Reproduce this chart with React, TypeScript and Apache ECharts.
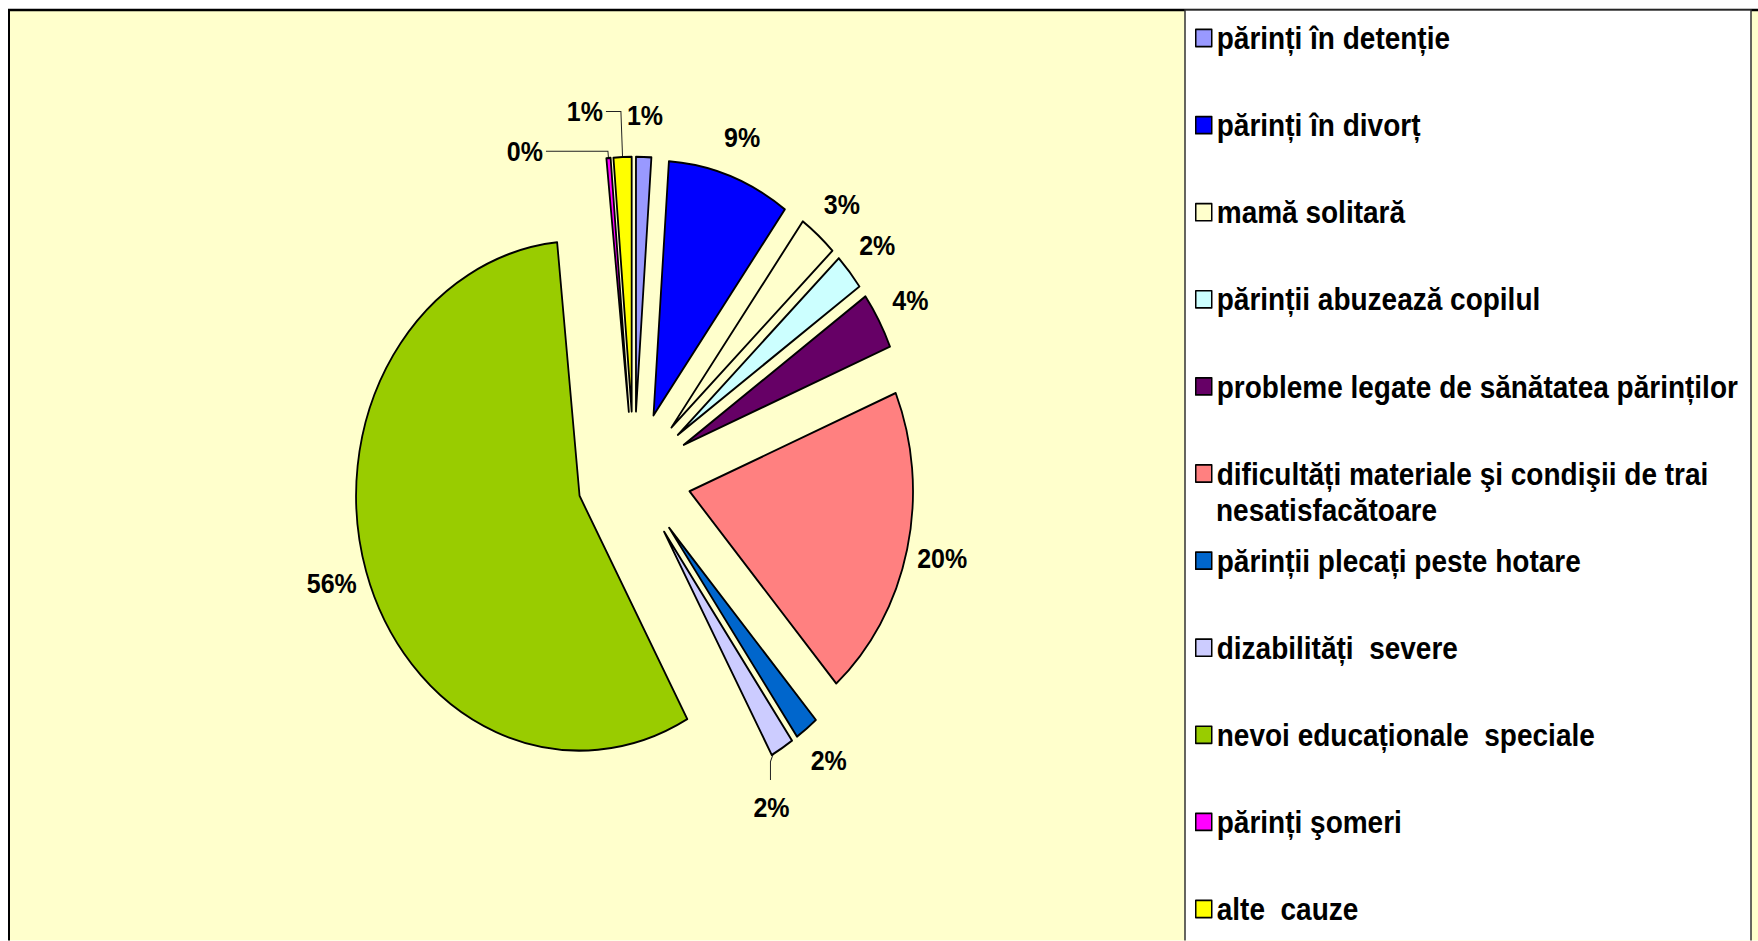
import { useEffect, useRef } from 'react';
import * as echarts from 'echarts';

const CATEGORIES = [
  'părinți în detenție',
  'părinți în divorț',
  'mamă solitară',
  'părinții abuzează copilul',
  'probleme legate de sănătatea părinților',
  'dificultăți materiale şi condişii de trai nesatisfacătoare',
  'părinții plecați peste hotare',
  'dizabilități  severe',
  'nevoi educaționale  speciale',
  'părinți şomeri',
  'alte  cauze',
];

// percentages
const VALUES = [1.1, 8.9, 2.8, 2.3, 3.6, 19.9, 1.7, 1.7, 56.4, 0.3, 1.3];

const COLORS = [
  '#9999FF', '#0000FF', '#FFFFCC', '#CCFFFF', '#660066', '#FF8080',
  '#0066CC', '#CCCCFF', '#99CC00', '#FF00FF', '#FFFF00',
];

const SECOND_LINE = 'nesatisfacătoare';

// layout constants (unstretched space; the picture is stretched vertically)
const K = 1.14;
const W = 1758;
const H = Math.round(941 / K);
const FONT = "'Liberation Sans', Arial, Helvetica, sans-serif";
const CENTER = [634, 418];
const R = 223.5;
const EXPLODE = 57;

const IDX_DIZAB = 7;
const IDX_SOMERI = 9;
const IDX_ALTE = 10;

const leaderFor = (i: number) => {
  if (i === IDX_SOMERI) return { labelLine: { show: true, length: 6, length2: 62 }, label: { distanceToLabelLine: 3 } };
  if (i === IDX_ALTE) return { labelLine: { show: true, length: 40, length2: 15 }, label: { distanceToLabelLine: 3 } };
  if (i === IDX_DIZAB) return { labelLine: { show: true, length: 10, length2: 0 } };
  return {};
};

export default function App() {
  const ref = useRef<HTMLDivElement>(null);
  useEffect(() => {
    if (!ref.current) return;
    const chart = echarts.init(ref.current, null, { renderer: 'svg' });
    const option: any = {
      animation: false,
      backgroundColor: 'transparent',
      textStyle: { fontFamily: FONT },
      graphic: [
        {
          type: 'rect', z: -10, silent: true,
          shape: { x: 9, y: 10 / K, width: 1800, height: 900 },
          style: { fill: '#FFFFCC', stroke: '#000', lineWidth: 2 },
        },
        {
          type: 'rect', z: -9, silent: true,
          shape: { x: 1185, y: 10 / K, width: 566, height: 900 },
          style: { fill: '#FFFFFF', stroke: '#333', lineWidth: 1.5 },
        },
        {
          type: 'text', z: 10, silent: true, x: 1216, y: 510 / K,
          style: {
            text: SECOND_LINE, fill: '#000', fontFamily: FONT, fontWeight: 'bold',
            fontSize: 28, verticalAlign: 'middle', align: 'left',
          },
        },
      ],
      legend: {
        orient: 'vertical', left: 1195, top: 38 / K - 14, padding: 0,
        itemGap: 87.1 / K - 28, itemWidth: 16, itemHeight: 15, icon: 'rect',
        selectedMode: false, data: CATEGORIES,
        itemStyle: { borderColor: '#000', borderWidth: 1.5 },
        textStyle: { fontFamily: FONT, fontWeight: 'bold', fontSize: 28, lineHeight: 28, color: '#000' },
        formatter: (n: string) => n.replace(' ' + SECOND_LINE, ''),
      },
      series: [
        {
          type: 'pie', name: 'main', center: CENTER, radius: R,
          startAngle: 90, clockwise: true,
          selectedMode: 'multiple', selectedOffset: EXPLODE,
          label: { show: false }, labelLine: { show: false },
          itemStyle: { borderColor: '#000', borderWidth: 1.8 },
          emphasis: { disabled: true },
          select: { itemStyle: { borderColor: '#000', borderWidth: 1.8 } },
          data: CATEGORIES.map((n, i) => ({
            name: n, value: VALUES[i], selected: true, itemStyle: { color: COLORS[i] },
          })),
        },
        {
          type: 'pie', name: 'labels', center: CENTER, radius: [R + EXPLODE - 1, R + EXPLODE],
          startAngle: 90, clockwise: true, silent: true, avoidLabelOverlap: false,
          selectedMode: false,
          itemStyle: { color: 'rgba(0,0,0,0)', borderWidth: 0 },
          emphasis: { disabled: true },
          label: {
            show: true, position: 'outside', fontFamily: FONT, fontWeight: 'bold', fontSize: 25,
            color: '#000', distanceToLabelLine: 0,
            formatter: (p: any) => Math.round(p.value) + '%',
          },
          labelLine: { show: false, length: 36, length2: 0, smooth: false, lineStyle: { color: '#222', width: 1 } },
          labelLayout: (p: any) => {
            if (p.dataIndex === IDX_DIZAB) {
              const pts = p.labelLinePoints;
              if (!pts || !pts[0]) return {};
              const t = pts[0];
              return {
                x: t[0] - 10.6, y: t[1] + 51.6, align: 'center', verticalAlign: 'middle',
                labelLinePoints: [[t[0] - 8.6, t[1] + 4.5], [t[0] - 11.6, t[1] + 11.8], [t[0] - 11.6, t[1] + 27.9]],
              };
            }
            if (p.dataIndex === IDX_SOMERI || p.dataIndex === IDX_ALTE) return {};
            return { align: 'center' };
          },
          data: CATEGORIES.map((n, i) => ({ name: n, value: VALUES[i], ...leaderFor(i) })),
        },
      ],
    };
    chart.setOption(option);
    return () => chart.dispose();
  }, []);
  return (
    <div
      ref={ref}
      style={{
        position: 'absolute', left: 0, top: 0, width: W, height: H,
        transform: `scaleY(${K})`, transformOrigin: '0 0',
      }}
    />
  );
}
